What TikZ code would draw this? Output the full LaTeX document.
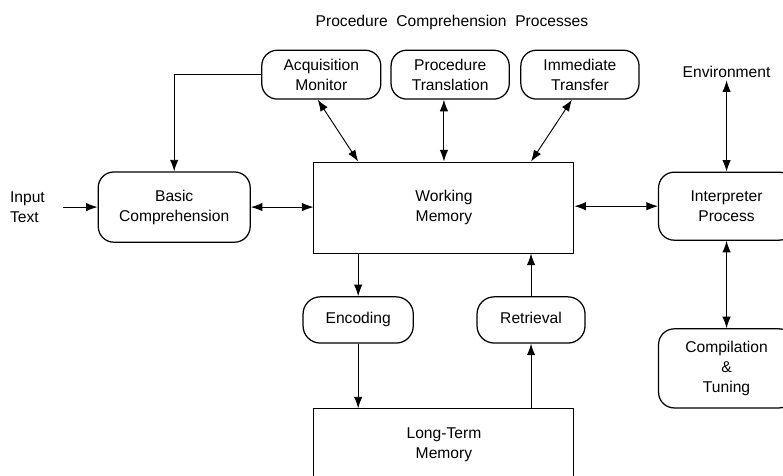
\documentclass[tikz,border=0pt]{standalone}
\usepackage{fontspec}
\setmainfont{Liberation Sans}
\usepackage{tikz}
\usetikzlibrary{arrows.meta,positioning}

\begin{document}
\begin{tikzpicture}[
font=\fontsize{10}{12.8}\selectfont,
proc/.style={draw,thick,rounded corners=10pt,align=center,inner sep=0pt},
store/.style={draw,semithick,align=center,inner sep=0pt,minimum width=5.85cm},
twoway/.style={<->,semithick,>={Latex[length=2.6mm,width=1.9mm]}},
oneway/.style={->,semithick,>={Latex[length=2.6mm,width=1.9mm]}},
scale=1]
\useasboundingbox (0,0) rectangle (17.62,-10.69);

% Title
\node (title) at (10.17,-0.5) {Procedure\ \ Comprehension\ \ Processes};

% Top processes
\node[proc,minimum width=2.68cm,minimum height=1.1cm] (acq) at (7.23,-1.68) {Acquisition\\Monitor};
\node[proc,minimum width=2.66cm,minimum height=1.1cm] (trans) at (10.13,-1.68) {Procedure\\Translation};
\node[proc,minimum width=2.66cm,minimum height=1.1cm] (imm) at (13.05,-1.68) {Immediate\\Transfer};
\node[inner sep=0pt] (env) at (16.35,-1.62) {Environment};

% Middle row
\node[inner sep=0pt,align=left,anchor=west] (input) at (0.22,-4.66) {Input\\Text};
\node[proc,minimum width=3.42cm,minimum height=1.58cm] (basic) at (3.92,-4.66) {Basic\\Comprehension};
\node[store,minimum height=2.05cm] (wm) at (9.99,-4.67) {Working\\Memory};
\node[proc,minimum width=3.06cm,minimum height=1.53cm] (interp) at (16.35,-4.64) {Interpreter\\Process};

% Lower row
\node[proc,rounded corners=11pt,minimum width=2.48cm,minimum height=1.04cm] (enc) at (8.06,-7.2) {Encoding\strut};
\node[proc,rounded corners=11pt,minimum width=2.43cm,minimum height=1.04cm] (ret) at (11.95,-7.2) {Retrieval\strut};
\node[proc,minimum width=3.06cm,minimum height=1.78cm] (comp) at (16.35,-8.29) {Compilation\\\&\\Tuning};
\node[store,minimum height=1.6cm] (ltm) at (9.99,-10.0) {Long-Term\\Memory};

% Connections
\draw[oneway,shorten <=0.4cm] (input.east |- basic) -- (basic.west);
\draw[twoway] (basic.east) -- (basic.east -| wm.west);
\draw[twoway] (wm.east |- interp) -- (interp.west);
\draw[oneway] (acq.west) -| (basic.north);
\draw[twoway] ([xshift=-0.08cm]acq.south) -- (enc.north |- wm.north);
\draw[twoway] (wm.north |- trans.south) -- (wm.north);
\draw[twoway] ([xshift=-0.18cm]imm.south) -- (ret.north |- wm.north);
\draw[twoway,shorten <=1.5pt] (env.south) -- (interp.north);
\draw[twoway] (interp.south) -- (comp.north);
\draw[oneway] (enc.north |- wm.south) -- (enc.north);
\draw[oneway] (enc.south) -- (enc.south |- ltm.north);
\draw[oneway] (ret.south |- ltm.north) -- (ret.south);
\draw[oneway] (ret.north) -- (ret.north |- wm.south);

\end{tikzpicture}
\end{document}
